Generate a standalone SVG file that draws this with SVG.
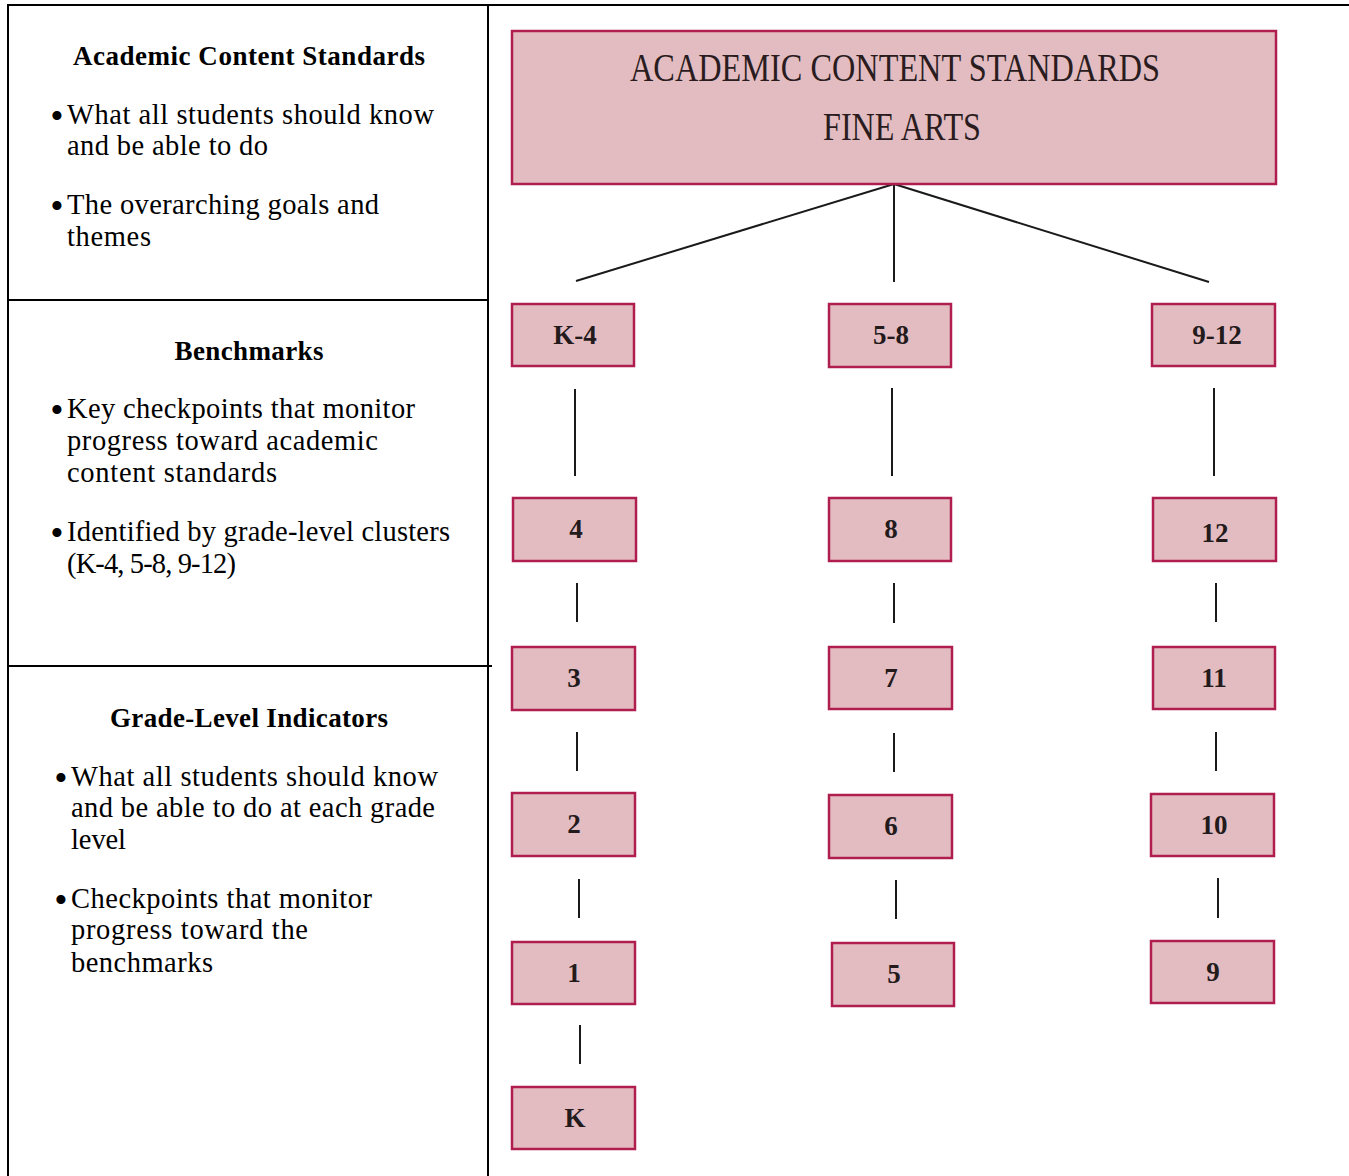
<svg xmlns="http://www.w3.org/2000/svg" width="1349" height="1176" viewBox="0 0 1349 1176">
<style>
.grid{stroke:#000;stroke-width:2;fill:none}
.body{font-family:"Liberation Serif","Times New Roman",serif;font-size:28.5px;fill:#000}
.head{font-family:"Liberation Serif","Times New Roman",serif;font-size:27px;font-weight:bold;fill:#000;text-anchor:middle}
.bul{font-family:"Liberation Serif","Times New Roman",serif;font-size:38px;fill:#000;text-anchor:middle}
.box{fill:#e3bcc1;stroke:#b01e4f;stroke-width:2.5}
.lbl{font-family:"Liberation Serif","Times New Roman",serif;font-size:27px;font-weight:bold;fill:#231a1c;text-anchor:middle}
.title{font-family:"Liberation Serif","Times New Roman",serif;font-size:40px;fill:#2a1c1e}
.con{stroke:#1a1a1a;stroke-width:2;fill:none}
</style>
<rect width="1349" height="1176" fill="#fff"/>
<g id="table">
<line class="grid" x1="8" y1="5" x2="1349" y2="5"/>
<line class="grid" x1="8" y1="4" x2="8" y2="1176"/>
<line class="grid" x1="488" y1="4" x2="488" y2="1176"/>
<line class="grid" x1="8" y1="300" x2="488" y2="300"/>
<line class="grid" x1="8" y1="666" x2="492" y2="666"/>
</g>
<g id="cell-standards">
<text class="head" x="249" y="65" textLength="352">Academic Content Standards</text>
<text class="bul" x="57" y="129">•</text>
<text class="body" x="67" y="124" textLength="367">What all students should know</text>
<text class="body" x="67" y="155" textLength="201">and be able to do</text>
<text class="bul" x="57" y="219">•</text>
<text class="body" x="67" y="214" textLength="312">The overarching goals and</text>
<text class="body" x="67" y="246" textLength="84">themes</text>
</g>
<g id="cell-benchmarks">
<text class="head" x="249" y="360" textLength="149">Benchmarks</text>
<text class="bul" x="57" y="423">•</text>
<text class="body" x="67" y="418" textLength="348">Key checkpoints that monitor</text>
<text class="body" x="67" y="450" textLength="311">progress toward academic</text>
<text class="body" x="67" y="482" textLength="210">content standards</text>
<text class="bul" x="57" y="546">•</text>
<text class="body" x="67" y="541" textLength="383">Identified by grade-level clusters</text>
<text class="body" x="67" y="573" textLength="169">(K-4, 5-8, 9-12)</text>
</g>
<g id="cell-indicators">
<text class="head" x="249" y="727" textLength="278">Grade-Level Indicators</text>
<text class="bul" x="61" y="791">•</text>
<text class="body" x="71" y="786" textLength="367">What all students should know</text>
<text class="body" x="71" y="817" textLength="364">and be able to do at each grade</text>
<text class="body" x="71" y="849" textLength="55">level</text>
<text class="bul" x="61" y="913">•</text>
<text class="body" x="71" y="908" textLength="301">Checkpoints that monitor</text>
<text class="body" x="71" y="939" textLength="237">progress toward the</text>
<text class="body" x="71" y="972" textLength="142">benchmarks</text>
</g>
<g id="connectors">
<line class="con" x1="894" y1="184" x2="576" y2="281"/>
<line class="con" x1="894" y1="184" x2="894" y2="282"/>
<line class="con" x1="894" y1="184" x2="1209" y2="282"/>
<line class="con" x1="575" y1="389" x2="575" y2="476"/>
<line class="con" x1="577" y1="583" x2="577" y2="622"/>
<line class="con" x1="577" y1="732" x2="577" y2="771"/>
<line class="con" x1="579" y1="879" x2="579" y2="918"/>
<line class="con" x1="580" y1="1025" x2="580" y2="1064"/>
<line class="con" x1="892" y1="388" x2="892" y2="476"/>
<line class="con" x1="894" y1="583" x2="894" y2="623"/>
<line class="con" x1="894" y1="733" x2="894" y2="772"/>
<line class="con" x1="896" y1="880" x2="896" y2="919"/>
<line class="con" x1="1214" y1="388" x2="1214" y2="476"/>
<line class="con" x1="1216" y1="583" x2="1216" y2="622"/>
<line class="con" x1="1216" y1="732" x2="1216" y2="771"/>
<line class="con" x1="1218" y1="878" x2="1218" y2="918"/>
</g>
<g id="node-top">
<rect class="box" x="512" y="31" width="764" height="153"/>
<text class="title" x="630" y="81" textLength="530" lengthAdjust="spacingAndGlyphs">ACADEMIC CONTENT STANDARDS</text>
<text class="title" x="823" y="140" textLength="158" lengthAdjust="spacingAndGlyphs">FINE ARTS</text>
</g>
<g id="node-k4"><rect class="box" x="512" y="304" width="122" height="62"/><text class="lbl" x="575" y="344">K-4</text></g>
<g id="node-4"><rect class="box" x="513" y="498" width="123" height="63"/><text class="lbl" x="576" y="538">4</text></g>
<g id="node-3"><rect class="box" x="512" y="647" width="123" height="63"/><text class="lbl" x="574" y="687">3</text></g>
<g id="node-2"><rect class="box" x="512" y="793" width="123" height="63"/><text class="lbl" x="574" y="833">2</text></g>
<g id="node-1"><rect class="box" x="512" y="942" width="123" height="62"/><text class="lbl" x="574" y="982">1</text></g>
<g id="node-k"><rect class="box" x="512" y="1087" width="123" height="62"/><text class="lbl" x="575" y="1127">K</text></g>
<g id="node-58"><rect class="box" x="829" y="304" width="122" height="63"/><text class="lbl" x="891" y="344">5-8</text></g>
<g id="node-8"><rect class="box" x="829" y="498" width="122" height="63"/><text class="lbl" x="891" y="538">8</text></g>
<g id="node-7"><rect class="box" x="829" y="647" width="123" height="62"/><text class="lbl" x="891" y="687">7</text></g>
<g id="node-6"><rect class="box" x="829" y="795" width="123" height="63"/><text class="lbl" x="891" y="835">6</text></g>
<g id="node-5"><rect class="box" x="832" y="943" width="122" height="63"/><text class="lbl" x="894" y="983">5</text></g>
<g id="node-912"><rect class="box" x="1152" y="304" width="123" height="62"/><text class="lbl" x="1217" y="344">9-12</text></g>
<g id="node-12"><rect class="box" x="1153" y="498" width="123" height="63"/><text class="lbl" x="1215" y="542">12</text></g>
<g id="node-11"><rect class="box" x="1153" y="647" width="122" height="62"/><text class="lbl" x="1214" y="687">11</text></g>
<g id="node-10"><rect class="box" x="1151" y="794" width="123" height="62"/><text class="lbl" x="1214" y="834">10</text></g>
<g id="node-9"><rect class="box" x="1151" y="941" width="123" height="62"/><text class="lbl" x="1213" y="981">9</text></g>
</svg>
